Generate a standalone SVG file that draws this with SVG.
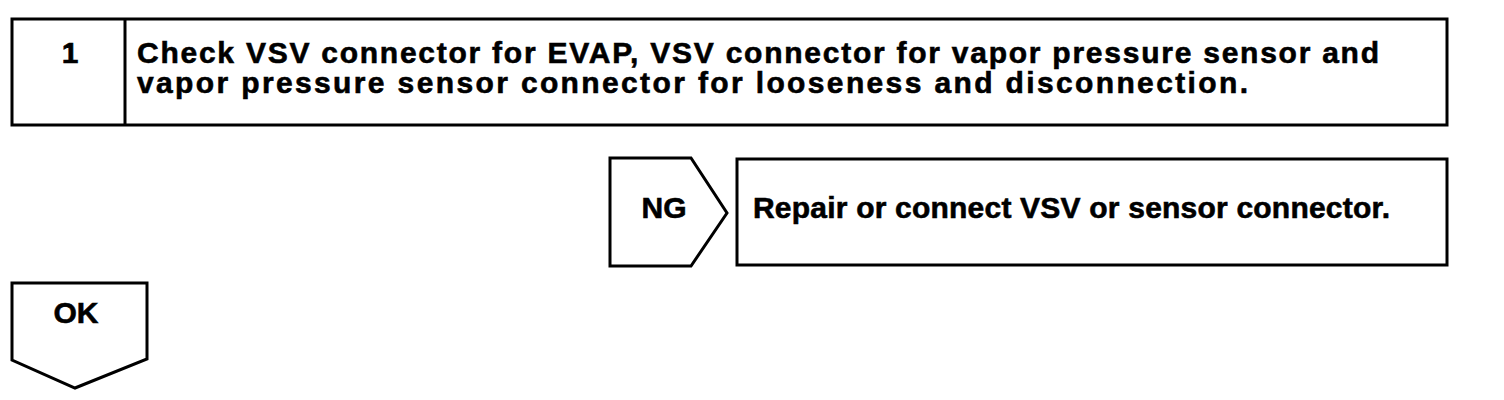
<svg xmlns="http://www.w3.org/2000/svg" width="1504" height="400" viewBox="0 0 1504 400">
<style>
.box{fill:#fff;stroke:#000;stroke-width:3;stroke-linejoin:miter}
.t{font-family:"Liberation Sans",Arial,sans-serif;font-weight:bold;font-size:30px;fill:#000;stroke:#000;stroke-width:0.6}
</style>
<rect width="1504" height="400" fill="#fff"/>
<g id="step1">
<rect class="box" x="12" y="19" width="1435" height="106"/>
<line x1="125" y1="19" x2="125" y2="125" stroke="#000" stroke-width="3"/>
<text class="t" x="70" y="63" text-anchor="middle">1</text>
<text class="t" x="137" y="63" textLength="1242" lengthAdjust="spacing">Check VSV connector for EVAP, VSV connector for vapor pressure sensor and</text>
<text class="t" x="137" y="93" textLength="1111" lengthAdjust="spacing">vapor pressure sensor connector for looseness and disconnection.</text>
</g>
<g id="ng">
<polygon class="box" points="610,158 691,158 727,213 691,266 610,266"/>
<text class="t" x="664" y="218" text-anchor="middle">NG</text>
</g>
<g id="repair">
<rect class="box" x="737" y="159" width="710" height="106"/>
<text class="t" x="753" y="218" textLength="637" lengthAdjust="spacing">Repair or connect VSV or sensor connector.</text>
</g>
<g id="ok">
<polygon class="box" points="12,283 147,283 147,359 75,388 12,360"/>
<text class="t" x="76" y="323" text-anchor="middle">OK</text>
</g>
<g id="connectors"></g>
</svg>
